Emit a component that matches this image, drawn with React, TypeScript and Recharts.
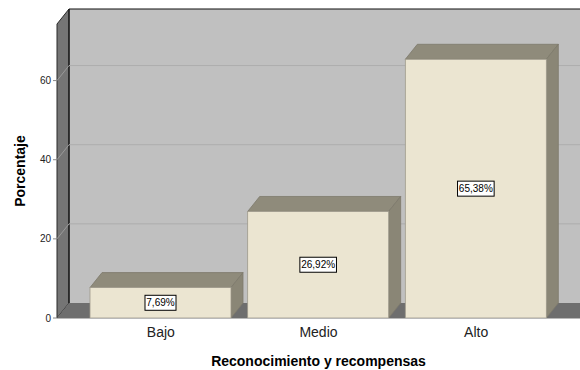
import React from 'react';
import {
  BarChart,
  Bar,
  XAxis,
  YAxis,
  ReferenceArea,
  ReferenceLine,
  LabelList,
} from 'recharts';

const categories: string[] = ['Bajo', 'Medio', 'Alto'];
const porcentajes: number[] = [7.69, 26.92, 65.38];
const yTicks: number[] = [0, 20, 40, 60];
const gridValues: number[] = [20, 40, 60];

const data = categories.map((name, i) => ({ name, value: porcentajes[i] }));

// depth of the 3D effect
const DX = 12;
const DY = 15;
// category axis padding; the reference area only spans the padded range
const PAD = 25;
const FONT = '"Liberation Sans", Arial, sans-serif';

const fmt = (v: number) => v.toFixed(2).replace('.', ',') + '%';

// back wall, left wall and floor, built from the plot rectangle
const Walls = (props: any) => {
  const x = props.x - PAD;
  const width = props.width + 2 * PAD;
  const { y, height } = props;
  const bottom = y + height;
  const right = x + width;
  return (
    <g>
      <rect x={x + DX} y={y - DY} width={width} height={height} fill="#c0c0c0" />
      <polygon
        points={`${x},${y} ${x + DX},${y - DY} ${x + DX},${bottom - DY} ${x},${bottom}`}
        fill="#757575"
        stroke="#2a2a2a"
        strokeWidth={1}
      />
      <polygon
        points={`${x},${bottom} ${right},${bottom} ${right + DX},${bottom - DY} ${x + DX},${bottom - DY}`}
        fill="#6e6e6e"
      />
      <line x1={x + DX} y1={y - DY} x2={right + DX} y2={y - DY} stroke="#111" strokeWidth={1.2} />
      <line x1={x + DX} y1={y - DY} x2={x + DX} y2={bottom - DY} stroke="#111" strokeWidth={1.2} />
      <line x1={x} y1={bottom + 0.5} x2={right} y2={bottom + 0.5} stroke="#b8b8b8" strokeWidth={1} />
    </g>
  );
};

// grid line running up the left wall and across the back wall
const WallGridLine = (props: any) => {
  const { x1, y1, x2, y2 } = props;
  return (
    <g>
      <line x1={x1} y1={y1} x2={x1 + DX} y2={y1 - DY} stroke="#9a9a9a" strokeWidth={1} />
      <line x1={x1 + DX} y1={y1 - DY} x2={x2 + DX} y2={y2 - DY} stroke="#adadad" strokeWidth={1} />
    </g>
  );
};

const Box3D = (props: any) => {
  const { x, y, width, height } = props;
  if (!height) return null;
  const r = x + width;
  const b = y + height;
  return (
    <g>
      <polygon
        points={`${x},${y} ${x + DX},${y - DY} ${r + DX},${y - DY} ${r},${y}`}
        fill="#8f8b7b"
        stroke="#7d7a6c"
        strokeWidth={0.8}
      />
      <polygon
        points={`${r},${y} ${r + DX},${y - DY} ${r + DX},${b - DY} ${r},${b}`}
        fill="#8a8676"
        stroke="#7d7a6c"
        strokeWidth={0.8}
      />
      <rect x={x} y={y} width={width} height={height} fill="#ebe5d1" stroke="#9e9a8c" strokeWidth={0.8} />
    </g>
  );
};

const ValueTag = (props: any) => {
  const { x, y, width, height, value } = props;
  const text = fmt(Number(value));
  const w = text.length * 5.6 + 3;
  const h = 15;
  const cx = x + width / 2;
  const cy = y + height / 2;
  return (
    <g>
      <rect x={cx - w / 2} y={cy - h / 2} width={w} height={h} fill="#ffffff" stroke="#000" strokeWidth={1} />
      <text
        x={cx}
        y={cy}
        textAnchor="middle"
        dominantBaseline="central"
        fontSize={10}
        fontFamily={FONT}
        fill="#000"
      >
        {text}
      </text>
    </g>
  );
};

const App: React.FC = () => {
  return (
    <div style={{ position: 'absolute', left: 0, top: 0, background: '#fff' }}>
      <BarChart
        width={580}
        height={370}
        data={data}
        margin={{ top: 24, right: 0, bottom: 0, left: 0 }}
        barSize={141}
      >
        <XAxis
          dataKey="name"
          height={52}
          padding={{ left: PAD, right: PAD }}
          tickLine={false}
          axisLine={false}
          tickMargin={3}
          tick={{ fontSize: 14, fontFamily: FONT, fill: '#222' }}
          label={{
            value: 'Reconocimiento y recompensas',
            position: 'insideBottom',
            offset: 4,
            fontSize: 14,
            fontWeight: 'bold',
            fontFamily: FONT,
            fill: '#000',
          }}
        />
        <YAxis
          width={57}
          domain={[0, 74.3]}
          ticks={yTicks}
          allowDataOverflow
          axisLine={false}
          tickSize={4}
          tickMargin={2}
          tickLine={{ stroke: '#888' }}
          tick={{ fontSize: 10, fontFamily: FONT, fill: '#222' }}
          label={{
            value: 'Porcentaje',
            angle: -90,
            position: 'center',
            dx: -8,
            fontSize: 14,
            fontWeight: 'bold',
            fontFamily: FONT,
            fill: '#000',
          }}
        />
        <ReferenceArea y1={0} y2={74.3} shape={<Walls />} zIndex={-300} />
        {gridValues.map((v) => (
          <ReferenceLine key={v} y={v} shape={<WallGridLine />} zIndex={-250} />
        ))}
        <Bar dataKey="value" shape={<Box3D />} isAnimationActive={false}>
          <LabelList dataKey="value" content={<ValueTag />} />
        </Bar>
      </BarChart>
    </div>
  );
};

export default App;
